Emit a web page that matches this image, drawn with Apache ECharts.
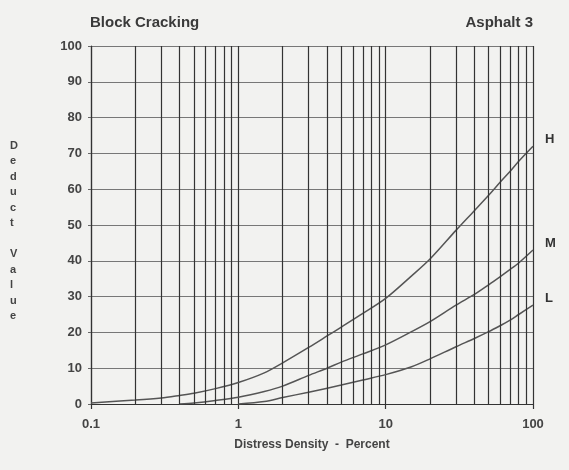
<!DOCTYPE html>
<html>
<head>
<meta charset="utf-8">
<script src="https://cdn.jsdelivr.net/npm/echarts@6/dist/echarts.min.js"></script>
<style>
  html, body { margin: 0; padding: 0; background: #f2f2f0; }
  #main { width: 569px; height: 470px; }
</style>
</head>
<body>
<div id="main"></div>
<script>
// distress density (percent) and deduct value for each severity
var hDensity = [0.1, 0.2, 0.3, 0.4, 0.5, 0.7, 1, 1.5, 2, 3, 4, 5, 7, 10, 15, 20, 30, 40, 50, 60, 70, 80, 100];
var hValue   = [0.3, 1.1, 1.7, 2.4, 3, 4.3, 6, 8.7, 11.5, 15.8, 19, 21.5, 25.3, 29.5, 35.8, 40.5, 48.5, 54, 58.3, 62, 65, 67.8, 72];

var mDensity = [0.4, 0.5, 0.7, 1, 1.5, 2, 3, 4, 5, 7, 10, 15, 20, 30, 40, 50, 60, 70, 80, 100];
var mValue   = [0, 0.3, 1, 1.9, 3.5, 5, 8, 10, 11.7, 14, 16.5, 20.2, 23, 27.6, 30.6, 33.3, 35.6, 37.6, 39.4, 43];

var lDensity = [1, 1.5, 2, 3, 5, 7, 10, 15, 20, 30, 40, 50, 60, 70, 80, 100];
var lValue   = [0, 0.7, 1.8, 3.3, 5.3, 6.7, 8.2, 10.4, 12.6, 16, 18.3, 20.2, 21.9, 23.4, 25, 27.6];

var minorDensity = [0.2, 0.3, 0.4, 0.5, 0.6, 0.7, 0.8, 0.9,
                    2, 3, 4, 5, 6, 7, 8, 9,
                    20, 30, 40, 50, 60, 70, 80, 90];

function pairs(xs, ys) {
  return xs.map(function (x, i) { return [x, ys[i]]; });
}

var font = 'Liberation Sans';
var myChart = echarts.init(document.getElementById('main'));

function curve(name, data) {
  return {
    name: name, type: 'line', data: data,
    smooth: 0.3, showSymbol: false,
    lineStyle: { color: '#555', width: 1.5 },
    endLabel: { show: true, formatter: '{a}', offset: [4, -7],
      fontSize: 13, fontWeight: 'bold', color: '#333' }
  };
}

var hSeries = curve('H', pairs(hDensity, hValue));
// the thin vertical lines of the log paper
hSeries.markLine = {
  silent: true, symbol: 'none', label: { show: false },
  lineStyle: { color: '#333', width: 1.2, type: 'solid' },
  data: minorDensity.map(function (d) { return { xAxis: d }; })
};

var option = {
  backgroundColor: '#f2f2f0',
  animation: false,
  textStyle: { fontFamily: font },
  title: [
    { text: 'Block Cracking', left: 85, top: 10,
      textStyle: { fontSize: 15, fontWeight: 'bold', color: '#3a3a3a', fontFamily: font } },
    { text: 'Asphalt 3', right: 31, top: 10,
      textStyle: { fontSize: 15, fontWeight: 'bold', color: '#3a3a3a', fontFamily: font } }
  ],
  graphic: [
    {
      type: 'text', left: 10, top: 138,
      style: {
        text: 'D\ne\nd\nu\nc\nt\n\nV\na\nl\nu\ne',
        font: 'bold 11px ' + font, fill: '#444', lineHeight: 15.5, align: 'center'
      }
    }
  ],
  grid: { left: 91, right: 36, top: 46, bottom: 66 },
  xAxis: {
    type: 'log', logBase: 10, min: 0.1, max: 100,
    name: 'Distress Density  -  Percent', nameLocation: 'middle', nameGap: 35,
    nameTextStyle: { fontSize: 12, fontWeight: 'bold', color: '#444' },
    axisLine: { lineStyle: { color: '#333', width: 1.2 } },
    axisTick: { show: true, length: 5, lineStyle: { color: '#333', width: 1.2 } },
    axisLabel: {
      margin: 14, fontSize: 13, fontWeight: 'bold', color: '#444',
      formatter: function (v) { return String(v); }
    },
    splitLine: { show: true, lineStyle: { color: '#333', width: 1.2 } }
  },
  yAxis: {
    type: 'value', min: 0, max: 100, interval: 10,
    axisLine: { show: true, lineStyle: { color: '#333', width: 1.2 } },
    axisTick: { show: true, length: 3, lineStyle: { color: '#666' } },
    axisLabel: { margin: 9, fontSize: 13, fontWeight: 'bold', color: '#444' },
    splitLine: { show: true, lineStyle: { color: '#777', width: 1.2 } }
  },
  series: [
    hSeries,
    curve('M', pairs(mDensity, mValue)),
    curve('L', pairs(lDensity, lValue))
  ]
};

myChart.setOption(option);
</script>
</body>
</html>
